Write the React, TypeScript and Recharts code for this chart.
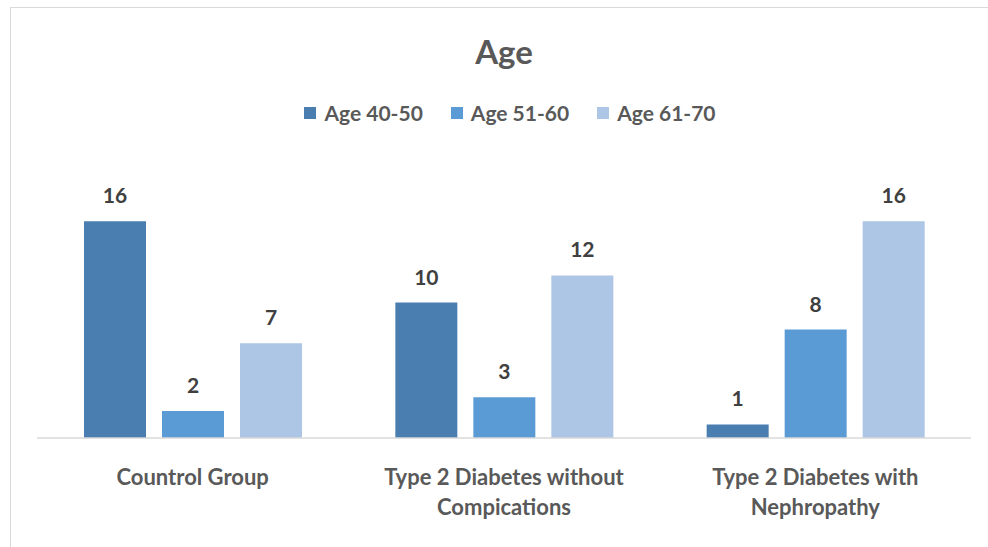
import { Bar, BarChart, LabelList, Legend, XAxis, YAxis } from "recharts";

// Values.
const categories = [
  "Countrol Group",
  "Type 2 Diabetes without\nCompications",
  "Type 2 Diabetes with\nNephropathy",
];
const age4050 = [16, 10, 1];
const age5160 = [2, 3, 8];
const age6170 = [7, 12, 16];

const seriesKeys = ["a4050", "a5160", "a6170"];
const seriesNames = ["Age 40-50", "Age 51-60", "Age 61-70"];
const seriesColors = ["#4a7eb0", "#5b9bd5", "#adc6e6"];

const FONT = "Lato, 'Liberation Sans', sans-serif";
const TEXT = "#595959";

const data = categories.map((name, i) => ({
  name,
  a4050: age4050[i],
  a5160: age5160[i],
  a6170: age6170[i],
}));

function CategoryTick({ x, y, payload }: any) {
  const lines = String(payload.value).split("\n");
  return (
    <text x={x} y={y} textAnchor="middle" fill={TEXT} fontFamily={FONT} fontSize={22} fontWeight={700}>
      {lines.map((line, i) => (
        <tspan key={i} x={x} dy={i === 0 ? 47 : 30}>
          {line}
        </tspan>
      ))}
    </text>
  );
}

function LegendRow() {
  return (
    <div style={{ display: "flex", justifyContent: "center", gap: 28, fontFamily: FONT }}>
      {seriesNames.map((name, i) => (
        <span key={name} style={{ display: "flex", alignItems: "center", gap: 8 }}>
          <span style={{ width: 12, height: 12, background: seriesColors[i], display: "inline-block" }} />
          <span style={{ color: TEXT, fontSize: 21, fontWeight: 700 }}>{name}</span>
        </span>
      ))}
    </div>
  );
}

export default function App() {
  return (
    <div style={{ position: "absolute", left: 0, top: 0, width: 988, height: 547, background: "#fff", overflow: "hidden" }}>
      <div
        style={{
          position: "absolute",
          left: 10,
          top: 7,
          width: 1000,
          height: 560,
          border: "1.5px solid #d9d9d9",
          boxSizing: "border-box",
        }}
      />
      <div
        style={{
          position: "absolute",
          left: 0,
          top: 31,
          width: 1008,
          textAlign: "center",
          fontFamily: FONT,
          fontSize: 33,
          fontWeight: 700,
          color: TEXT,
        }}
      >
        Age
      </div>
      <BarChart
        width={988}
        height={547}
        data={data}
        margin={{ top: 167, right: 17, bottom: 9, left: 37 }}
        barSize={62}
        barGap={16}
      >
        <YAxis hide domain={[0, 20]} />
        <XAxis
          dataKey="name"
          height={100}
          axisLine={{ stroke: "#d9d9d9", strokeWidth: 1.5 }}
          tickLine={false}
          tickSize={0}
          tickMargin={0}
          interval={0}
          tick={<CategoryTick />}
        />
        <Legend
          verticalAlign="middle"
          align="center"
          layout="horizontal"
          content={<LegendRow />}
          wrapperStyle={{ position: "absolute", top: 100, left: 6, width: 1008 }}
        />
        {seriesKeys.map((key, i) => (
          <Bar key={key} dataKey={key} name={seriesNames[i]} fill={seriesColors[i]} isAnimationActive={false}>
            <LabelList
              dataKey={key}
              position="top"
              offset={18}
              fill="#404040"
              fontFamily={FONT}
              fontSize={21}
              fontWeight={700}
            />
          </Bar>
        ))}
      </BarChart>
    </div>
  );
}
